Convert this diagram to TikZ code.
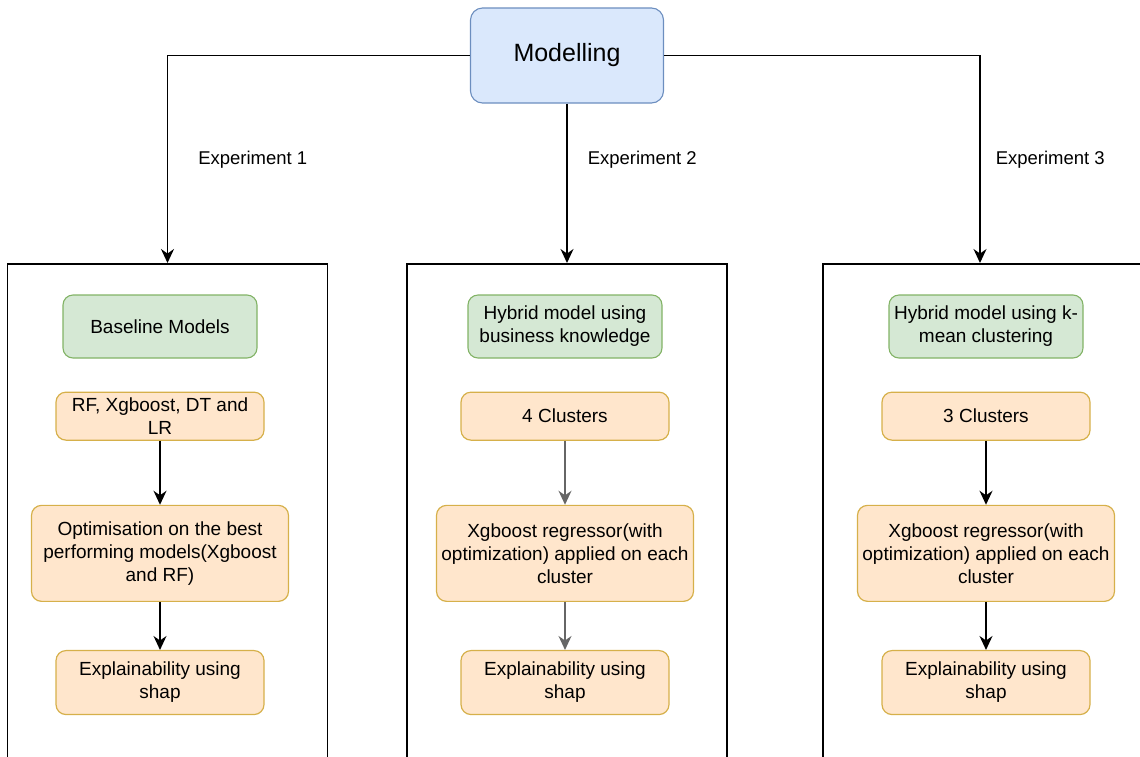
\documentclass[tikz,border=0pt]{standalone}
\usepackage{fontspec}
\setmainfont{Liberation Sans}
\usetikzlibrary{arrows.meta, positioning}
\definecolor{HeadFill}{HTML}{DAE8FC}
\definecolor{HeadLine}{HTML}{6C8EBF}
\definecolor{GoalFill}{HTML}{D5E8D4}
\definecolor{GoalLine}{HTML}{82B366}
\definecolor{StepFill}{HTML}{FFE6CC}
\definecolor{StepLine}{HTML}{D6B04A}
\definecolor{MidArrow}{HTML}{666666}

\begin{document}
\begin{tikzpicture}[
  x=1pt, y=-1pt,
  head/.style={draw=HeadLine, fill=HeadFill, rounded corners=12pt, minimum width=193pt,
               minimum height=95pt, font=\fontsize{25}{30}\selectfont, line width=1.1pt},
  panel/.style={draw, line width=1.6pt, minimum width=320pt, minimum height=560pt, anchor=north},
  goal/.style={draw=GoalLine, fill=GoalFill, rounded corners=10pt, minimum width=194pt,
               minimum height=63pt, align=center, inner sep=2pt, line width=1.1pt,
               font=\fontsize{19}{23}\selectfont},
  stepbox/.style={draw=StepLine, fill=StepFill, rounded corners=10pt, minimum width=208pt,
                  minimum height=48pt, align=center, inner sep=2pt, line width=1.2pt,
                  font=\fontsize{19}{23}\selectfont},
  arr/.style={-{Stealth[length=14pt, width=13pt]}, line width=1.5pt},
  lbl/.style={font=\fontsize{18.5}{22}\selectfont, inner sep=0pt},
]
\clip (0,0) rectangle (1140,756);
%% Top
\node[head] (model) at (567,55.5) {Modelling};
%% Experiment panels
\node[panel] (exp1) at (167.5,263) {};
\node[panel] (exp2) at (567,263) {};
\node[panel] (exp3) at (983,263) {};
%% Experiment 1
\node[goal] (base1) at (160,326.5) {Baseline Models};
\node[stepbox, below=33pt of base1] (mods1) {RF, Xgboost, DT and\\LR};
\node[stepbox, below=64pt of mods1, minimum width=257pt, minimum height=96pt] (opt1)
  {Optimisation on the best\\performing models(Xgboost\\and RF)};
\node[stepbox, below=48pt of opt1, minimum height=64pt] (shap1) {Explainability using\\shap};
%% Experiment 2
\node[goal] (base2) at (565,326.5) {Hybrid model using\\business knowledge};
\node[stepbox, below=33pt of base2] (clus2) {4 Clusters};
\node[stepbox, below=64pt of clus2, minimum width=257pt, minimum height=96pt] (xgb2)
  {Xgboost regressor(with\\optimization) applied on each\\cluster};
\node[stepbox, below=48pt of xgb2, minimum height=64pt] (shap2) {Explainability using\\shap};
%% Experiment 3
\node[goal] (base3) at (986,326.5) {Hybrid model using k-\\mean clustering};
\node[stepbox, below=33pt of base3] (clus3) {3 Clusters};
\node[stepbox, below=64pt of clus3, minimum width=257pt, minimum height=96pt] (xgb3)
  {Xgboost regressor(with\\optimization) applied on each\\cluster};
\node[stepbox, below=48pt of xgb3, minimum height=64pt] (shap3) {Explainability using\\shap};
%% Branches
\draw[arr] (model.west) -| (exp1.north) node[lbl, pos=0.75, right=30pt] {Experiment 1};
\draw[arr] (model.south) -- (exp2.north) node[lbl, pos=0.35, right=20pt] {Experiment 2};
\draw[arr] (model.east) -| ([xshift=-3pt]exp3.north) node[lbl, pos=0.75, right=15pt] {Experiment 3};
%% Inner arrows
\draw[arr] (mods1) -- (opt1);
\draw[arr] (opt1) -- (shap1);
\draw[arr, color=MidArrow] (clus2) -- (xgb2);
\draw[arr, color=MidArrow] (xgb2) -- (shap2);
\draw[arr] (clus3) -- (xgb3);
\draw[arr] (xgb3) -- (shap3);
\end{tikzpicture}
\end{document}
